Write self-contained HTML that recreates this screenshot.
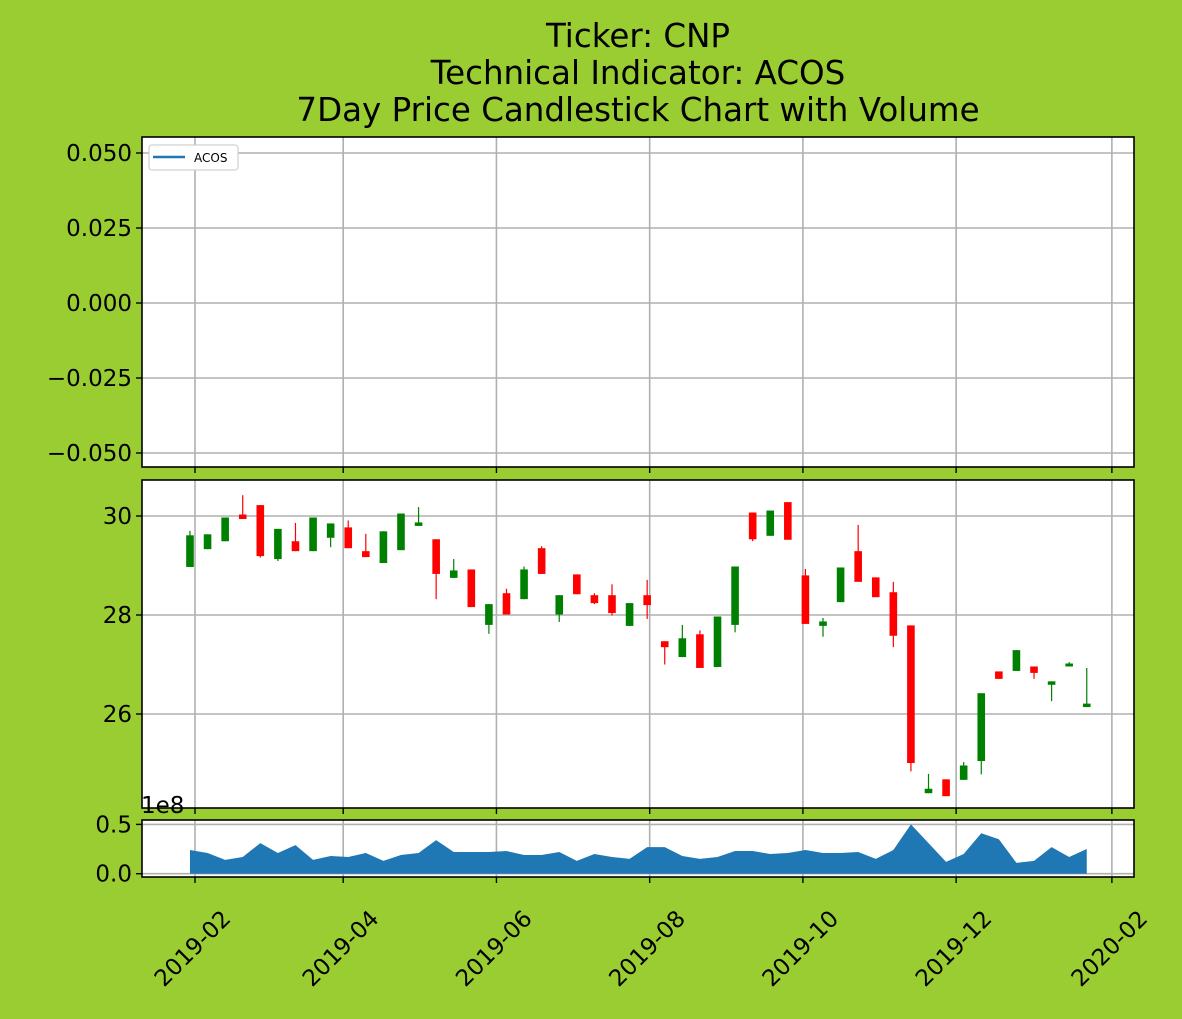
<!DOCTYPE html>
<html><head><meta charset="utf-8"><style>
body{margin:0;background:#9acd32;}
svg{display:block;font-family:"DejaVu Sans","Liberation Sans",sans-serif;}
</style></head><body>
<svg id="c" width="1182" height="1019" xmlns="http://www.w3.org/2000/svg">
<rect width="1182" height="1019" fill="#9acd32"/>
<g font-size="32.5" text-anchor="middle" fill="#000">
<text x="638" y="47">Ticker: CNP</text>
<text x="638" y="84">Technical Indicator: ACOS</text>
<text x="638" y="121">7Day Price Candlestick Chart with Volume</text>
</g>
</svg>
<script>
const opens  =[28.97,29.33,29.49,30.03,30.22,29.13,29.49,29.29,29.56,29.77,29.29,29.05,29.31,29.80,29.53,28.75,28.92,27.80,28.44,28.32,29.35,28.01,28.82,28.40,28.40,27.78,28.40,27.47,27.15,27.61,26.95,27.80,30.07,29.60,30.28,28.80,27.78,28.26,29.29,28.76,28.46,27.79,24.40,24.68,24.67,25.05,26.86,26.87,26.96,26.59,26.96,26.14];
const closes =[29.61,29.63,29.97,29.94,29.19,29.74,29.29,29.97,29.85,29.35,29.17,29.69,30.05,29.87,28.83,28.90,28.16,28.22,28.01,28.92,28.83,28.40,28.42,28.24,28.04,28.24,28.20,27.35,27.53,26.93,27.97,28.98,29.53,30.11,29.52,27.82,27.87,28.96,28.67,28.36,27.58,25.01,24.49,24.34,24.96,26.42,26.71,27.29,26.83,26.66,27.02,26.21];
const highs  =[29.70,29.63,29.97,30.42,30.22,29.74,29.86,29.97,29.85,29.91,29.64,29.69,30.05,30.18,29.53,29.13,28.92,28.22,28.53,28.98,29.39,28.40,28.82,28.44,28.62,28.24,28.71,27.47,27.80,27.69,27.97,28.98,30.07,30.11,30.28,28.93,27.94,28.96,29.82,28.76,28.67,27.79,24.79,24.68,25.03,26.42,26.86,27.29,26.96,26.66,27.05,26.93];
const lows   =[28.97,29.33,29.49,29.94,29.16,29.09,29.29,29.29,29.37,29.35,29.17,29.05,29.31,29.80,28.32,28.75,28.16,27.62,28.01,28.32,28.83,27.86,28.42,28.22,27.99,27.78,27.92,27.00,27.15,26.93,26.95,27.65,29.49,29.60,29.52,27.82,27.56,28.26,28.67,28.36,27.35,24.84,24.40,24.34,24.67,24.78,26.71,26.87,26.71,26.26,26.96,26.14];
const volumes=[0.24,0.21,0.14,0.17,0.31,0.21,0.29,0.14,0.18,0.17,0.21,0.13,0.19,0.21,0.34,0.22,0.22,0.22,0.23,0.19,0.19,0.22,0.13,0.20,0.17,0.15,0.27,0.27,0.18,0.15,0.17,0.23,0.23,0.20,0.21,0.24,0.21,0.21,0.22,0.15,0.24,0.50,0.31,0.12,0.20,0.41,0.35,0.11,0.13,0.27,0.17,0.25];
const startDate="2019-01-30";
const xTickLabels=["2019-02","2019-04","2019-06","2019-08","2019-10","2019-12","2020-02"];
const acosTicks=[0.05,0.025,0,-0.025,-0.05];
const priceTicks=[26,28,30];
const volTicks=[0.0,0.5];

const NS="http://www.w3.org/2000/svg";
const svg=document.getElementById('c');
function el(t,a,p){const e=document.createElementNS(NS,t);for(const k in a)e.setAttribute(k,a[k]);(p||svg).appendChild(e);return e;}
const L=142,R=1134;
const d0=Date.UTC(2019,1,1);
function dayOf(s){const [y,m,d]=s.split('-').map(Number);return (Date.UTC(y,m-1,d||1)-d0)/86400000;}
const X=d=>195+d*2.512;
const P1={t:137,b:467},P2={t:480,b:808},P3={t:820,b:877};
const yA=v=>303-v*3000;
const yP=v=>516-(v-30)*49.5;
const yV=v=>873.7-v*98.6;
const grid="#b0b0b0";
function panel(p,name){
  const r=el('rect',{x:L,y:p.t,width:R-L,height:p.b-p.t,fill:'#fff'});
  
  
}
panel(P1,'acos-panel');panel(P2,'price-panel');panel(P3,'volume-panel');
xTickLabels.forEach(s=>{
  const x=X(dayOf(s));
  [P1,P2,P3].forEach(p=>{
    el('line',{x1:x,x2:x,y1:p.t,y2:p.b,stroke:grid,'stroke-width':1.6});
    el('line',{x1:x,x2:x,y1:p.b,y2:p.b+6,stroke:'#000','stroke-width':1.4});
  });
  const t=el('text',{x:0,y:0,'font-size':23,'text-anchor':'middle','dominant-baseline':'central',transform:`translate(${x-2},${P3.b+72}) rotate(-45)`});
  t.textContent=s;
  
  
});
function yTicks(vals,f,p,fmt){
  vals.forEach(v=>{
    const y=f(v);
    el('line',{x1:L,x2:R,y1:y,y2:y,stroke:grid,'stroke-width':1.6});
    el('line',{x1:L-6,x2:L,y1:y,y2:y,stroke:'#000','stroke-width':1.4});
    const t=el('text',{x:L-10,y:y+8,'font-size':23,'text-anchor':'end'});
    t.textContent=fmt(v);
    
    
  });
}
yTicks(acosTicks,yA,P1,v=>(v<0?'\u2212':'')+Math.abs(v).toFixed(3));
yTicks(priceTicks,yP,P2,v=>String(v));
yTicks(volTicks,yV,P3,v=>v.toFixed(1));
const gC=el('g',{});


const sd=dayOf(startDate);
opens.forEach((o,i)=>{
  const c=closes[i],x=X(sd+7*i),col=c>=o?'#008000':'#ff0000';
  const w=el('line',{x1:x,x2:x,y1:yP(highs[i]),y2:yP(lows[i]),stroke:col,'stroke-width':1.2},gC);
  
  
  const top=yP(Math.max(o,c)),bot=yP(Math.min(o,c));
  const b=el('rect',{x:x-3.8,y:top,width:7.6,height:Math.max(bot-top,1),fill:col},gC);
  
  
});
let pts=`${X(sd)},${yV(0)} `;
volumes.forEach((v,i)=>{pts+=`${X(sd+7*i)},${yV(v)} `;});
pts+=`${X(sd+7*(volumes.length-1))},${yV(0)}`;
const va=el('polygon',{points:pts,fill:'#1f77b4'});


const ve=el('text',{x:141,y:813,'font-size':23});
ve.textContent='1e8';


[P1,P2,P3].forEach(p=>el('rect',{x:L,y:p.t,width:R-L,height:p.b-p.t,fill:'none',stroke:'#000','stroke-width':1.6}));
const lg=el('g',{});


el('rect',{x:149,y:145,width:89,height:25,rx:3,fill:'#fff',stroke:'#d0d0d0','stroke-width':1.2},lg);
el('line',{x1:153,x2:185,y1:157,y2:157,stroke:'#1f77b4','stroke-width':2.6},lg);
const lt=el('text',{x:194,y:162,'font-size':12},lg);
lt.textContent='ACOS';
</script>
</body></html>
